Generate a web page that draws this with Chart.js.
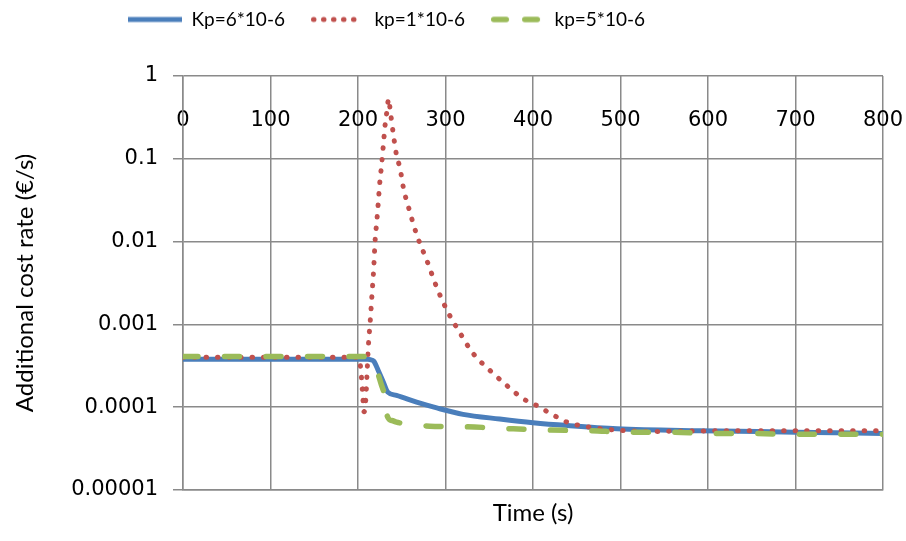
<!DOCTYPE html>
<html><head><meta charset="utf-8">
<script src="https://cdn.jsdelivr.net/npm/chart.js@4"></script>
<style>html,body{margin:0;padding:0;background:#fff}#wrap{width:906px;height:541px}</style>
</head><body><div id="wrap"><canvas id="c"></canvas></div>
<script>
// ---- data ----
const seriesNames = ['Kp=6*10-6', 'kp=1*10-6', 'kp=5*10-6'];

const timeKp6 = [0, 100, 200, 211, 214, 218, 223, 229, 234, 244, 267, 290, 320, 362, 400, 440, 496, 590, 700, 800];
const valKp6  = [3.8e-4, 3.8e-4, 3.8e-4, 3.8e-4, 3.75e-4, 3.6e-4, 2.8e-4, 2.0e-4, 1.52e-4, 1.39e-4, 1.15e-4, 9.8e-5, 8.2e-5, 7.2e-5, 6.5e-5, 6.0e-5, 5.5e-5, 5.2e-5, 5.0e-5, 4.8e-5];

const timeKp1 = [0, 100, 200, 203, 205, 207, 209, 210.5, 212, 214, 216, 218, 219.5, 221.5, 223, 225, 227, 229, 231, 233, 235, 237, 240.5, 244, 248, 252, 258, 267, 279, 290, 302, 315, 332, 351, 370, 389, 404, 420, 439, 462, 485, 534, 630, 700, 800];
const valKp1  = [4.0e-4, 4.0e-4, 4.0e-4, 3.0e-4, 1.6e-4, 8.8e-5, 1.3e-4, 2.8e-4, 5.8e-4, 1.1e-3, 2.3e-3, 4.8e-3, 1.01e-2, 1.76e-2, 2.8e-2, 5.3e-2, 8.5e-2, 0.148, 0.257, 0.37, 0.53, 0.37, 0.194, 0.111, 0.077, 0.044, 0.0254, 0.0122, 0.0058, 0.0028, 0.00146, 8.4e-4, 4.4e-4, 2.77e-4, 1.83e-4, 1.26e-4, 1.05e-4, 8.4e-5, 6.6e-5, 5.8e-5, 5.4e-5, 5.1e-5, 5.2e-5, 5.2e-5, 5.2e-5];

const timeKp5 = [0, 100, 200, 208, 216, 223, 227, 231, 232.5, 233.5, 238.6, 244, 260, 282, 324, 374, 417, 465, 511, 557, 606, 654, 702, 800];
const valKp5  = [4.1e-4, 4.1e-4, 4.1e-4, 4.1e-4, 3.65e-4, 2.5e-4, 1.83e-4, 1.45e-4, 1.35e-4, 7.8e-5, 6.9e-5, 6.6e-5, 6.2e-5, 5.9e-5, 5.8e-5, 5.5e-5, 5.3e-5, 5.2e-5, 5.0e-5, 5.0e-5, 4.8e-5, 4.8e-5, 4.7e-5, 4.7e-5];

const xTickValues = [0, 100, 200, 300, 400, 500, 600, 700, 800];
const yTickValues = [1e-5, 1e-4, 1e-3, 1e-2, 0.1, 1];
const yTickLabels = ['0.00001', '0.0001', '0.001', '0.01', '0.1', '1'];
const xTitle = 'Time (s)';
const yTitle = 'Additional cost rate (€/s)';

// ---- styles ----
const pts = (t, v) => t.map((x, i) => ({x: x, y: v[i]}));
const GRID = '#8a8a8a';
const TICK_FONT = {family: 'DejaVu Sans', size: 21};
const TEXT_FONT = {family: 'Lato', size: 24};
const LEGEND_DX = 102, LEGEND_DY = -16;
const PLOT_TOP = 76;
const seriesStyles = [
  {color: '#4A7EBB', width: 5,   dash: [],         cap: 'butt',  legendDash: []},
  {color: '#C0504D', width: 5,   dash: [0.5, 11],  cap: 'round', legendDash: [0.5, 9.5]},
  {color: '#9BBB59', width: 5.5, dash: [15, 26.5], cap: 'round', legendDash: [12.5, 18.5]}
];
const SAMPLE_W = 54;

// legend sample images (line swatches)
const samples = seriesStyles.map(st => {
  const cv = document.createElement('canvas');
  cv.width = SAMPLE_W; cv.height = 10;
  const g = cv.getContext('2d');
  g.strokeStyle = st.color; g.lineWidth = st.width; g.lineCap = st.cap;
  g.setLineDash(st.legendDash);
  const inset = st.cap === 'round' ? st.width / 2 : 0;
  g.beginPath(); g.moveTo(inset, 5); g.lineTo(SAMPLE_W - inset, 5); g.stroke();
  return cv;
});

const legendShift = {
  id: 'legendShift',
  afterLayout(chart) {
    const l = chart.legend; if (!l) return;
    l.left += LEGEND_DX; l.right += LEGEND_DX;
    l.top += LEGEND_DY; l.bottom += LEGEND_DY;
  }
};

const seriesData = [pts(timeKp6, valKp6), pts(timeKp1, valKp1), pts(timeKp5, valKp5)];
const drawOrder = [2, 1, 0];

new Chart(document.getElementById('c'), {
  type: 'line',
  data: {
    datasets: seriesData.map((d, i) => ({
      label: seriesNames[i], data: d,
      borderColor: seriesStyles[i].color, backgroundColor: seriesStyles[i].color,
      borderWidth: seriesStyles[i].width, borderDash: seriesStyles[i].dash, borderCapStyle: seriesStyles[i].cap,
      pointRadius: 0, cubicInterpolationMode: 'monotone', order: drawOrder[i]
    }))
  },
  options: {
    responsive: true, maintainAspectRatio: false, animation: false,
    layout: {padding: {left: 0, right: 23, top: 0, bottom: 0}},
    plugins: {
      tooltip: {enabled: false},
      legend: {
        position: 'top', align: 'start',
        labels: {
          usePointStyle: true, pointStyleWidth: SAMPLE_W,
          font: {family: 'Lato', size: 19}, color: '#000', padding: 26,
          generateLabels: chart => Chart.defaults.plugins.legend.labels.generateLabels(chart)
            .map(it => Object.assign(it, {pointStyle: samples[it.datasetIndex]})),
          sort: (a, b) => a.datasetIndex - b.datasetIndex
        }
      }
    },
    scales: {
      x: {
        type: 'linear', position: 'bottom', min: 0, max: 800,
        afterBuildTicks: s => { s.ticks = xTickValues.map(v => ({value: v})); },
        ticks: {display: false},
        grid: {color: GRID, lineWidth: 1.5, drawTicks: false},
        border: {display: true, color: GRID, width: 1.5},
        title: {display: true, text: xTitle, font: TEXT_FONT, color: '#000', padding: {top: 8.6, bottom: 13.6}},
        afterFit: s => { s.paddingLeft = 0; s.paddingRight = 0; }
      },
      x2: {
        type: 'linear', position: 'top', min: 0, max: 800,
        afterBuildTicks: s => { s.ticks = xTickValues.map(v => ({value: v})); },
        ticks: {mirror: true, padding: 32, font: TICK_FONT, color: '#000', autoSkip: false, maxRotation: 0},
        grid: {display: false},
        border: {display: false},
        afterFit: s => {
          const lh = s.chart.legend ? s.chart.legend.height : 0;
          s.height = Math.max(0, PLOT_TOP - lh);
          s.paddingLeft = 0; s.paddingRight = 0;
        }
      },
      y: {
        type: 'logarithmic', position: 'left', min: 1e-5, max: 1,
        afterBuildTicks: s => { s.ticks = yTickValues.map(v => ({value: v})); },
        ticks: {font: TICK_FONT, color: '#000', padding: 15,
                callback: v => { const i = yTickValues.findIndex(t => Math.abs(Math.log10(t) - Math.log10(v)) < 1e-6); return i >= 0 ? yTickLabels[i] : ''; }},
        grid: {color: GRID, lineWidth: 1.5, tickLength: 10},
        border: {display: true, color: GRID, width: 1.5},
        title: {display: true, text: yTitle, font: TEXT_FONT, color: '#000', padding: {top: 10.6, bottom: 0}},
        afterFit: s => { s.width = 183; }
      }
    }
  },
  plugins: [legendShift]
});
</script>
</body></html>
